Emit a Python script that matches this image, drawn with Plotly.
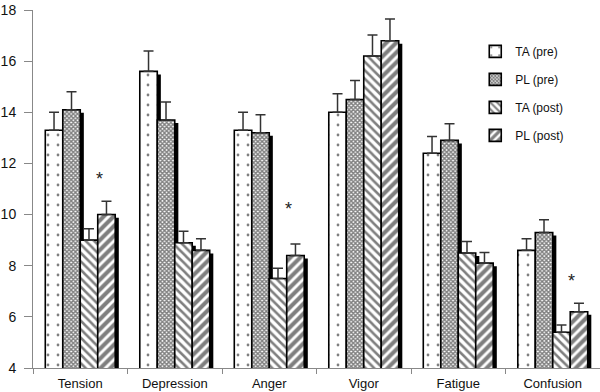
import plotly.graph_objects as go

categories = ["Tension", "Depression", "Anger", "Vigor", "Fatigue", "Confusion"]
series_names = ["TA (pre)", "PL (pre)", "TA (post)", "PL (post)"]
ta_pre = [13.3, 15.6, 13.3, 14.0, 12.4, 8.6]
ta_pre_err = [0.7, 0.8, 0.7, 0.72, 0.65, 0.45]
pl_pre = [14.1, 13.7, 13.2, 14.5, 12.9, 9.3]
pl_pre_err = [0.7, 0.7, 0.7, 0.74, 0.65, 0.5]
ta_post = [9.0, 8.9, 7.5, 16.2, 8.5, 5.4]
ta_post_err = [0.45, 0.45, 0.4, 0.82, 0.45, 0.28]
pl_post = [10.0, 8.6, 8.4, 16.8, 8.1, 6.2]
pl_post_err = [0.52, 0.45, 0.45, 0.85, 0.42, 0.33]
sig_categories = ["Tension", "Anger", "Confusion"]
sig_y = [11.4, 10.2, 7.4]
y_ticks = [4, 6, 8, 10, 12, 14, 16, 18]

values = [ta_pre, pl_pre, ta_post, pl_post]
errors = [ta_pre_err, pl_pre_err, ta_post_err, pl_post_err]
patterns = [
    dict(shape=".", size=10, solidity=0.06, fgcolor="black", bgcolor="white"),
    dict(shape="x", size=3, solidity=0.7, fgcolor="black", bgcolor="white"),
    dict(shape="\\", size=6, solidity=0.42, fgcolor="black", bgcolor="white"),
    dict(shape="/", size=7, solidity=0.58, fgcolor="black", bgcolor="white"),
]
bar_w = 0.185
offsets = [-0.37, -0.185, 0.0, 0.185]
shadow_dx = 0.038
shadow_dy = 0.12

fig = go.Figure()
for i in range(4):
    # drop shadow
    fig.add_trace(go.Bar(
        x=categories, y=[v - shadow_dy for v in values[i]],
        width=bar_w, offset=offsets[i] + shadow_dx,
        marker=dict(color="black", line=dict(width=0)),
        showlegend=False, hoverinfo="skip",
    ))
    fig.add_trace(go.Bar(
        x=categories, y=values[i], name=series_names[i],
        legendgroup=series_names[i],
        width=bar_w, offset=offsets[i],
        marker=dict(color="white", pattern=patterns[i],
                    line=dict(color="black", width=1.6)),
        error_y=dict(type="data", array=errors[i], arrayminus=[0] * 6,
                     symmetric=False, color="#333333", thickness=1.5, width=5),
    ))

for c, yv in zip(sig_categories, sig_y):
    fig.add_annotation(x=c, y=yv, text="*", showarrow=False, xshift=19,
                       font=dict(size=18, color="#222222", family="Liberation Sans, Arial"))

fig.update_layout(
    barmode="overlay",
    width=600, height=392,
    margin=dict(l=33, r=0, t=10, b=24, autoexpand=False),
    paper_bgcolor="white", plot_bgcolor="white",
    font=dict(family="Liberation Sans, Arial, sans-serif", size=13, color="#111111"),
    showlegend=True,
    legend=dict(x=0.78, y=0.925, xanchor="left", yanchor="top",
                font=dict(size=12), tracegroupgap=9, bgcolor="rgba(0,0,0,0)",
                itemwidth=30),
    xaxis=dict(type="category", range=[-0.5, 5.5], showline=True, linecolor="#888888",
               linewidth=1, ticks="outside", tickson="boundaries", ticklen=5,
               tickcolor="#888888", showgrid=False, zeroline=False,
               ticklabelstandoff=3, automargin=False),
    yaxis=dict(range=[4, 18], tickvals=y_ticks, showline=True, linecolor="#888888",
               linewidth=1, ticks="outside", ticklen=8, tickcolor="#888888",
               showgrid=False, zeroline=False, tickfont=dict(size=14),
               ticklabelstandoff=5, automargin=False),
)

fig.write_html("out.html", config={"displayModeBar": False},
               post_script="document.body.style.margin='0';document.body.style.overflow='hidden';")
